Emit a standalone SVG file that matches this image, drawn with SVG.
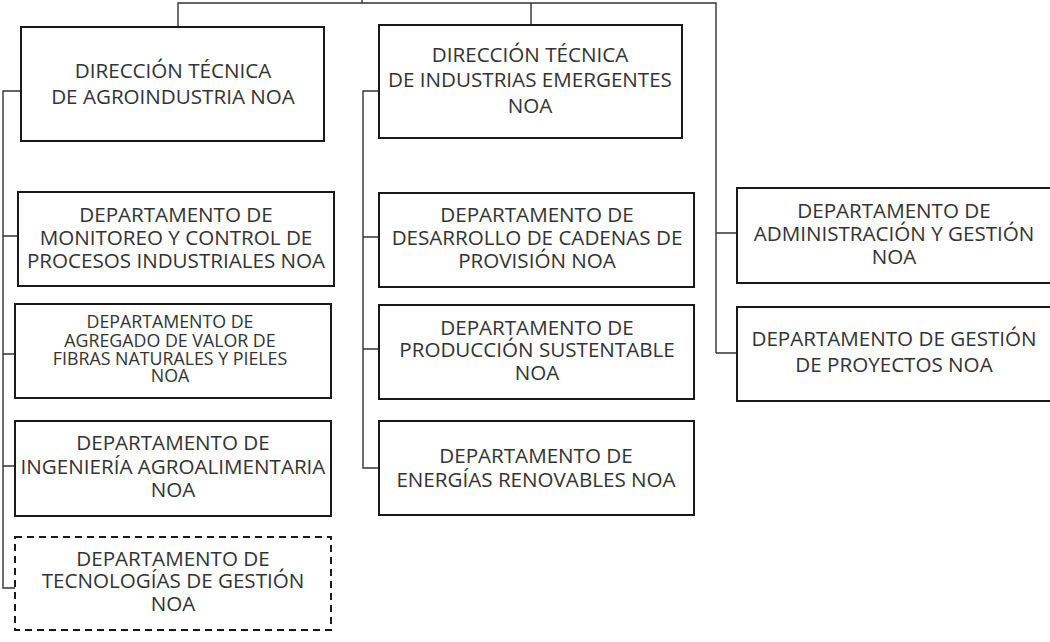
<svg xmlns="http://www.w3.org/2000/svg" width="1050" height="642" viewBox="0 0 1050 642">
<style>
.box{fill:#fff;stroke:#1a1a1a;stroke-width:2}
.dash{fill:#fff;stroke:#1a1a1a;stroke-width:2;stroke-dasharray:7 5}
.c{fill:none;stroke:#333;stroke-width:1.4}
text{font-family:"Open Sans","Noto Sans",sans-serif;font-size:20.6px;fill:#333;text-anchor:middle}
.sm{font-size:17.8px}
</style>
<rect width="1050" height="642" fill="#fff"/>
<g id="connectors">
<path class="c" d="M362,0 V3 M178,27 V3 H716 V353 M531,3 V25"/>
<path class="c" d="M21,91 H3 V588 H15 M3,236 H18 M3,354 H15 M3,466 H15"/>
<path class="c" d="M379,91 H363 V468 H379 M363,237 H379 M363,349 H379"/>
<path class="c" d="M716,233 H737 M716,353 H737"/>
</g>
<g id="dt-agroindustria">
<rect class="box" x="21" y="27" width="303" height="114"/>
<text x="173" y="78">DIRECCIÓN TÉCNICA</text>
<text x="173" y="104">DE AGROINDUSTRIA NOA</text>
</g>
<g id="dt-industrias">
<rect class="box" x="379" y="25" width="303" height="113"/>
<text x="530" y="62">DIRECCIÓN TÉCNICA</text>
<text x="530" y="87">DE INDUSTRIAS EMERGENTES</text>
<text x="530" y="113">NOA</text>
</g>
<g id="d-monitoreo">
<rect class="box" x="18" y="192" width="316" height="94"/>
<text x="176" y="222">DEPARTAMENTO DE</text>
<text x="176" y="245">MONITOREO Y CONTROL DE</text>
<text x="176" y="268">PROCESOS INDUSTRIALES NOA</text>
</g>
<g id="d-fibras">
<rect class="box" x="15" y="304" width="316" height="94"/>
<text class="sm" x="170" y="328">DEPARTAMENTO DE</text>
<text class="sm" x="170" y="347">AGREGADO DE VALOR DE</text>
<text class="sm" x="170" y="365">FIBRAS NATURALES Y PIELES</text>
<text class="sm" x="170" y="382">NOA</text>
</g>
<g id="d-ingenieria">
<rect class="box" x="15" y="421" width="316" height="95"/>
<text x="173" y="450">DEPARTAMENTO DE</text>
<text x="173" y="474">INGENIERÍA AGROALIMENTARIA</text>
<text x="173" y="497">NOA</text>
</g>
<g id="d-tecnologias">
<rect class="dash" x="15" y="537" width="316" height="93"/>
<text x="173" y="566">DEPARTAMENTO DE</text>
<text x="173" y="588">TECNOLOGÍAS DE GESTIÓN</text>
<text x="173" y="611">NOA</text>
</g>
<g id="d-cadenas">
<rect class="box" x="379" y="193" width="315" height="94"/>
<text x="537" y="222">DEPARTAMENTO DE</text>
<text x="537" y="245">DESARROLLO DE CADENAS DE</text>
<text x="537" y="268">PROVISIÓN NOA</text>
</g>
<g id="d-produccion">
<rect class="box" x="379" y="305" width="315" height="94"/>
<text x="537" y="335">DEPARTAMENTO DE</text>
<text x="537" y="357">PRODUCCIÓN SUSTENTABLE</text>
<text x="537" y="380">NOA</text>
</g>
<g id="d-energias">
<rect class="box" x="379" y="421" width="315" height="94"/>
<text x="536" y="463">DEPARTAMENTO DE</text>
<text x="536" y="487">ENERGÍAS RENOVABLES NOA</text>
</g>
<g id="d-administracion">
<rect class="box" x="737" y="188" width="316" height="95"/>
<text x="894" y="218">DEPARTAMENTO DE</text>
<text x="894" y="241">ADMINISTRACIÓN Y GESTIÓN</text>
<text x="894" y="264">NOA</text>
</g>
<g id="d-proyectos">
<rect class="box" x="737" y="307" width="316" height="94"/>
<text x="894" y="346">DEPARTAMENTO DE GESTIÓN</text>
<text x="894" y="372">DE PROYECTOS NOA</text>
</g>
</svg>
